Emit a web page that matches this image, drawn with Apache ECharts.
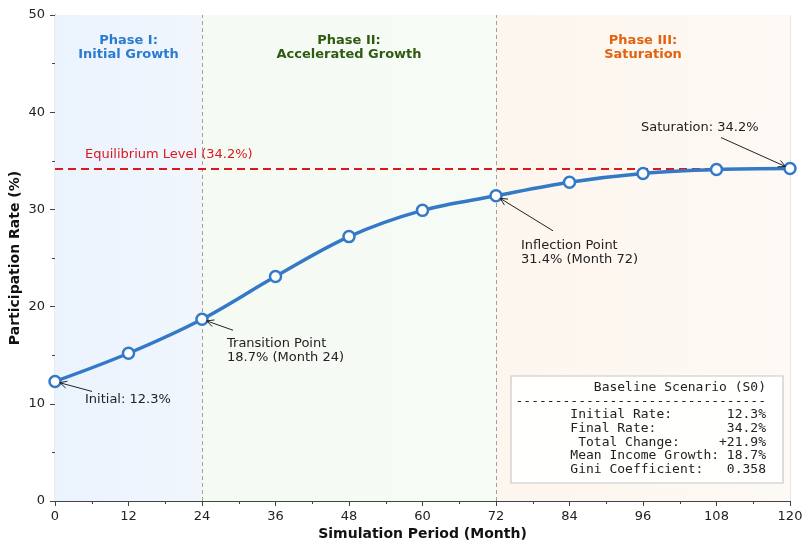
<!DOCTYPE html>
<html><head><meta charset="utf-8">
<script src="https://cdn.jsdelivr.net/npm/echarts@6/dist/echarts.min.js"></script>
<style>html,body{margin:0;padding:0;background:#fff}#c{width:802px;height:541px}</style>
</head><body><div id="c"></div>
<script>
const months = [0, 12, 24, 36, 48, 60, 72, 84, 96, 108, 120];
const rates = [12.3, 15.2, 18.7, 23.1, 27.2, 29.9, 31.4, 32.8, 33.7, 34.1, 34.2];
const equilibrium = 34.2;
const phaseBounds = [0, 24, 72, 120];
const phaseTitles = ['Phase I:\nInitial Growth', 'Phase II:\nAccelerated Growth', 'Phase III:\nSaturation'];
const phaseTitleColors = ['#2b7bd0', '#2f5a12', '#e2620f'];
const phaseFill = [['#ebf3fe', '#f1f6fd'], ['#f5fbf3', '#f6fbf6'], ['#fdf6ee', '#fdf9f4']];
const statsLines = ['Baseline Scenario (S0)', '--------------------------------', 'Initial Rate:       12.3%', 'Final Rate:         34.2%', ' Total Change:     +21.9%', 'Mean Income Growth: 18.7%', 'Gini Coefficient:   0.358'];
// annotations: [month, rate, text, text offset px [dx,dy], arrow tail offset px]
const annotations = [
  [0, 12.3, 'Initial: 12.3%', [30, 19], [37, 10]],
  [24, 18.7, 'Transition Point\n18.7% (Month 24)', [25, 25], [31, 11]],
  [72, 31.4, 'Inflection Point\n31.4% (Month 72)', [25, 51], [57, 35]],
  [120, 34.2, 'Saturation: 34.2%', [-149, -40], [-69, -31]]
];

const font = 'DejaVu Sans';
const lineColor = '#3479c6';
const chart = echarts.init(document.getElementById('c'));

const markAreaData = [];
for (let i = 0; i < 3; i++) {
  markAreaData.push([{ xAxis: phaseBounds[i], yAxis: 0, itemStyle: { color: new echarts.graphic.LinearGradient(0, 0, 1, 0, [{ offset: 0, color: phaseFill[i][0] }, { offset: 1, color: phaseFill[i][1] }]) } }, { xAxis: phaseBounds[i + 1], yAxis: 50 }]);
}

chart.setOption({
  animation: false,
  grid: { left: 55, right: 12, top: 15, bottom: 40, outerBoundsMode: 'none', containLabel: false },
  xAxis: {
    type: 'value', min: 0, max: 120, interval: 12,
    name: 'Simulation Period (Month)', nameLocation: 'middle', nameGap: 26, nameMoveOverlap: false,
    nameTextStyle: { fontFamily: font, fontWeight: 'bold', fontSize: 14, color: '#111' },
    axisLine: { lineStyle: { color: '#444', width: 1.2 } },
    axisTick: { inside: false, length: 5, lineStyle: { color: '#444' } },
    minorTick: { show: true, splitNumber: 2, length: 3, lineStyle: { color: '#444' } },
    axisLabel: { fontFamily: font, fontSize: 13, color: '#222', margin: 9 },
    splitLine: { show: true, lineStyle: { color: '#e6e6e6', width: 1 } }
  },
  yAxis: {
    type: 'value', min: 0, max: 50, interval: 10,
    name: 'Participation Rate (%)', nameLocation: 'middle', nameGap: 33, nameMoveOverlap: false,
    nameTextStyle: { fontFamily: font, fontWeight: 'bold', fontSize: 14, color: '#111' },
    axisLine: { show: true, lineStyle: { color: '#444', width: 1.2 } },
    axisTick: { show: true, inside: false, length: 5, lineStyle: { color: '#444' } },
    minorTick: { show: true, splitNumber: 2, length: 3, lineStyle: { color: '#444' } },
    axisLabel: { fontFamily: font, fontSize: 13, color: '#222', margin: 10 },
    splitLine: { show: true, lineStyle: { color: '#e6e6e6', width: 1 } }
  },
  series: [
    {
      type: 'line', data: [], silent: true,
      markArea: { silent: true, data: markAreaData },
      markLine: {
        silent: true, symbol: 'none', label: { show: false },
        data: [
          { xAxis: 24, lineStyle: { color: '#a0a0a0', type: [4, 3], width: 1 } },
          { xAxis: 72, lineStyle: { color: '#a0a0a0', type: [4, 3], width: 1 } },
          { yAxis: equilibrium, lineStyle: { color: '#d9191c', type: [8, 5], width: 2 } }
        ]
      }
    },
    {
      type: 'line', data: months.map((m, i) => [m, rates[i]]),
      smooth: 0.35, lineStyle: { color: lineColor, width: 3.5 },
      symbol: 'circle', symbolSize: 11,
      itemStyle: { color: '#fff', borderColor: lineColor, borderWidth: 2.5 },
      z: 5
    }
  ]
});

const g = [];
for (let i = 0; i < 3; i++) {
  const p = chart.convertToPixel({ gridIndex: 0 }, [(phaseBounds[i] + phaseBounds[i + 1]) / 2, 50]);
  g.push({ type: 'text', x: p[0], y: p[1] + 19, style: { text: phaseTitles[i], fill: phaseTitleColors[i], font: 'bold 13px ' + font, textAlign: 'center', lineHeight: 14 }, z: 10 });
}
const ep = chart.convertToPixel({ gridIndex: 0 }, [0, equilibrium]);
g.push({ type: 'text', x: ep[0] + 30, y: ep[1] - 20, style: { text: 'Equilibrium Level (' + equilibrium + '%)', fill: '#d9191c', font: '13px ' + font }, z: 10 });
annotations.forEach(a => {
  const p = chart.convertToPixel({ gridIndex: 0 }, [a[0], a[1]]);
  g.push({ type: 'text', x: p[0] + a[3][0], y: p[1] + a[3][1] - 8, style: { text: a[2], fill: '#222', font: '13px ' + font, lineHeight: 14 }, z: 10 });
  const tx = p[0] + a[4][0], ty = p[1] + a[4][1];
  const dx = tx - p[0], dy = ty - p[1], len = Math.hypot(dx, dy);
  const ux = dx / len, uy = dy / len;
  const hx = p[0] + ux * 5, hy = p[1] + uy * 5;
  g.push({ type: 'line', shape: { x1: hx, y1: hy, x2: tx, y2: ty }, style: { stroke: '#222', lineWidth: 1 }, z: 10 });
  const ah = 7, aw = 3.5;
  g.push({ type: 'polyline', shape: { points: [[hx + ux * ah - uy * aw, hy + uy * ah + ux * aw], [hx, hy], [hx + ux * ah + uy * aw, hy + uy * ah - ux * aw]] }, style: { stroke: '#222', lineWidth: 1, fill: null }, z: 10 });
});
const bx = 511, by = 376, bw = 272, bh = 107;
g.push({ type: 'rect', shape: { x: bx, y: by, width: bw, height: bh }, style: { fill: 'rgba(255,255,255,0.92)', stroke: '#c8c8c8', lineWidth: 1.2 }, z: 20 });
g.push({ type: 'text', x: bx + bw - 17, y: by + 5, style: { text: statsLines.join('\n'), fill: '#222', font: '13px "DejaVu Sans Mono"', textAlign: 'right', lineHeight: 13.6 }, z: 21 });
chart.setOption({ graphic: g });
</script></body></html>
